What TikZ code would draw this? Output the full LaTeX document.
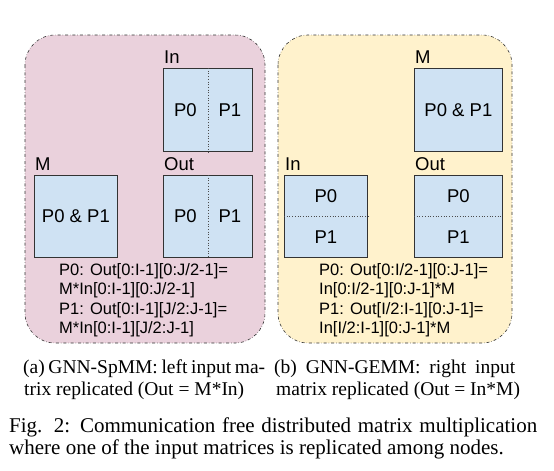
\documentclass[tikz,border=0pt]{standalone}
\usepackage{fontspec}
\setmainfont{Liberation Serif}
\newfontfamily\arialfont{Liberation Sans}
\usetikzlibrary{calc}

\definecolor{pinkbg}{HTML}{EAD1DC}
\definecolor{yellowbg}{HTML}{FFF2CC}
\definecolor{matblue}{HTML}{CFE2F3}

\tikzset{
    panel/.style={draw=black!80, dash dot, line width=0.6pt, rounded corners=30pt},
    matbox/.style={draw=black!80, fill=matblue, line width=0.8pt, anchor=north west, inner sep=0pt},
    matlabel/.style={anchor=base west, inner sep=0pt, font=\arialfont\fontsize{18.5}{22}\selectfont},
    parttext/.style={inner sep=0pt, font=\arialfont\fontsize{18.5}{22}\selectfont},
    eqtext/.style={anchor=base west, inner sep=0pt, font=\arialfont\fontsize{16.5}{19.5}\selectfont},
    divider/.style={black!70, dotted, line width=0.7pt},
    captext/.style={anchor=base west, inner sep=0pt, font=\fontsize{19.5}{22}\selectfont},
    figtext/.style={anchor=base west, inner sep=0pt, font=\fontsize{21}{23}\selectfont}
}

\begin{document}
\begin{tikzpicture}[x=1pt, y=-1pt]
    \useasboundingbox (0,0) rectangle (554,471);

    % (a) left input replicated
    \fill[pinkbg, rounded corners=30pt] (25,35) rectangle (265,343);
    \draw[panel] (25,35) rectangle (265,343);

    \node[matbox, minimum width=89pt, minimum height=83pt] (inA) at (163,68) {};
    \node[matbox, minimum width=83pt, minimum height=82pt] (mA) at (34,175) {};
    \node[matbox, minimum width=89pt, minimum height=82pt] (outA) at (163,175) {};
    \draw[divider] (inA.north) -- (inA.south);
    \draw[divider] (outA.north) -- (outA.south);

    \node[matlabel] (inAlbl) at (164,63.5) {In};
    \node[matlabel] (mAlbl) at (35,170.5) {M};
    \node[matlabel] (outAlbl) at (164,170.5) {Out};

    \node[parttext] (inAp0) at ([xshift=-22.5pt]inA.center) {P0};
    \node[parttext] (inAp1) at ([xshift=22pt]inA.center) {P1};
    \node[parttext] (mAp) at (mA.center) {P0 \& P1};
    \node[parttext] (outAp0) at ([xshift=-22.5pt]outA.center) {P0};
    \node[parttext] (outAp1) at ([xshift=22pt]outA.center) {P1};

    \node[eqtext] (eqA1) at (59,275) {P0: Out[0:I-1][0:J/2-1]=};
    \node[eqtext] (eqA2) at (59,294.5) {M*In[0:I-1][0:J/2-1]};
    \node[eqtext] (eqA3) at (59,314) {P1: Out[0:I-1][J/2:J-1]=};
    \node[eqtext] (eqA4) at (59,333.5) {M*In[0:I-1][J/2:J-1]};

    % (b) right input replicated
    \fill[yellowbg, rounded corners=30pt] (278,35) rectangle (512,343);
    \draw[panel] (278,35) rectangle (512,343);

    \node[matbox, minimum width=88pt, minimum height=83pt] (mB) at (414,68) {};
    \node[matbox, minimum width=83pt, minimum height=82pt] (inB) at (284,175) {};
    \node[matbox, minimum width=88pt, minimum height=82pt] (outB) at (414,175) {};
    \draw[divider] (inB.west) -- (inB.east);
    \draw[divider] (outB.west) -- (outB.east);

    \node[matlabel] (mBlbl) at (415,63.5) {M};
    \node[matlabel] (inBlbl) at (285,170.5) {In};
    \node[matlabel] (outBlbl) at (415,170.5) {Out};

    \node[parttext] (mBp) at (mB.center) {P0 \& P1};
    \node[parttext] (inBp0) at ([yshift=20.5pt]inB.center) {P0};
    \node[parttext] (inBp1) at ([yshift=-20.5pt]inB.center) {P1};
    \node[parttext] (outBp0) at ([yshift=20.5pt]outB.center) {P0};
    \node[parttext] (outBp1) at ([yshift=-20.5pt]outB.center) {P1};

    \node[eqtext] (eqB1) at (319,275) {P0: Out[0:I/2-1][0:J-1]=};
    \node[eqtext] (eqB2) at (319,294.5) {In[0:I/2-1][0:J-1]*M};
    \node[eqtext] (eqB3) at (319,314) {P1: Out[I/2:I-1][0:J-1]=};
    \node[eqtext] (eqB4) at (319,333.5) {In[I/2:I-1][0:J-1]*M};

    % captions
    \node[captext] (capA1) at (23,373) {\makebox[242pt][s]{(a) GNN-SpMM: left input ma-}};
    \node[captext] (capA2) at (24,395) {trix replicated (Out = M*In)};
    \node[captext] (capB1) at (274,373) {\makebox[241pt][s]{(b) GNN-GEMM: right input}};
    \node[captext] (capB2) at (276,395) {matrix replicated (Out = In*M)};

    \node[figtext] (fig1) at (9,432) {\makebox[528pt][s]{Fig. 2: Communication free distributed matrix multiplication}};
    \node[figtext] (fig2) at (9,454) {where one of the input matrices is replicated among nodes.};
\end{tikzpicture}
\end{document}
